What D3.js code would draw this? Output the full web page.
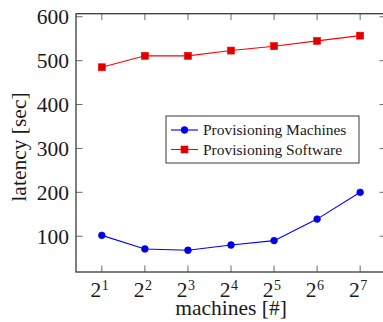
<!DOCTYPE html>
<html>
<head>
<meta charset="utf-8">
<script src="https://cdn.jsdelivr.net/npm/d3@7"></script>
<style>
  body { margin: 0; background: #fff; }
  text { font-family: "Liberation Serif", "DejaVu Serif", serif; fill: #1a1a1a; }
</style>
</head>
<body>
<div id="chart"></div>
<script>
  var machines = [2, 4, 8, 16, 32, 64, 128];
  var provMachines = [102, 71, 68, 80, 90, 139, 200];
  var provSoftware = [485, 511, 511, 523, 533, 545, 557];
  var yTicks = [100, 200, 300, 400, 500, 600];
  var seriesNames = ['Provisioning Machines', 'Provisioning Software'];

  (function () {
    'use strict';

    var width = 383, height = 322;
    var plotLeft = 76, plotRight = 386, plotTop = 13.7, plotBottom = 272;
    var tickLen = 6.5;

    var svg = d3.select('#chart')
      .append('svg')
      .attr('width', width)
      .attr('height', height);

    var x = d3.scaleLog().base(2)
      .domain([Math.pow(2, 0.4), Math.pow(2, 7.6)])
      .range([plotLeft, plotRight]);

    var y = d3.scaleLinear()
      .domain([18.5, 607])
      .range([plotBottom, plotTop]);

    // ticks on all four sides, pointing inward
    var ticks = svg.append('g').attr('stroke', '#6b6b6b').attr('stroke-width', 1);
    machines.forEach(function (m) {
      ticks.append('line').attr('x1', x(m)).attr('x2', x(m)).attr('y1', plotBottom).attr('y2', plotBottom - tickLen);
      ticks.append('line').attr('x1', x(m)).attr('x2', x(m)).attr('y1', plotTop).attr('y2', plotTop + tickLen);
    });
    yTicks.forEach(function (v) {
      ticks.append('line').attr('x1', plotLeft).attr('x2', plotLeft + tickLen).attr('y1', y(v)).attr('y2', y(v));
      ticks.append('line').attr('x1', plotRight).attr('x2', plotRight - tickLen).attr('y1', y(v)).attr('y2', y(v));
    });

    svg.append('rect')
      .attr('x', plotLeft).attr('y', plotTop)
      .attr('width', plotRight - plotLeft).attr('height', plotBottom - plotTop)
      .attr('fill', 'none').attr('stroke', '#3a3a3a').attr('stroke-width', 1.3);

    // y tick labels
    svg.append('g').selectAll('text')
      .data(yTicks).enter()
      .append('text')
      .attr('x', 69)
      .attr('y', function (d) { return y(d) + 7.5; })
      .attr('text-anchor', 'end')
      .style('font-size', '21.5px')
      .text(function (d) { return d; });

    // x tick labels 2^n
    var xl = svg.append('g').selectAll('g')
      .data(machines).enter()
      .append('g')
      .attr('transform', function (d) { return 'translate(' + x(d) + ',296.5)'; });
    xl.append('text')
      .attr('x', -0.5)
      .attr('text-anchor', 'end')
      .style('font-size', '21.5px')
      .text('2');
    xl.append('text')
      .attr('x', 0)
      .attr('y', -6.5)
      .attr('text-anchor', 'start')
      .style('font-size', '14px')
      .text(function (d) { return Math.log2(d); });

    svg.append('text')
      .attr('x', 231).attr('y', 315)
      .attr('text-anchor', 'middle')
      .style('font-size', '21.5px')
      .text('machines [#]');

    svg.append('text')
      .attr('transform', 'translate(26,147) rotate(-90)')
      .attr('text-anchor', 'middle')
      .style('font-size', '21.5px')
      .text('latency [sec]');

    var line = d3.line()
      .x(function (d, i) { return x(machines[i]); })
      .y(function (d) { return y(d); });

    svg.append('path').datum(provMachines)
      .attr('d', line).attr('fill', 'none').attr('stroke', '#0000ff').attr('stroke-width', 1.1);
    svg.append('path').datum(provSoftware)
      .attr('d', line).attr('fill', 'none').attr('stroke', '#ff0000').attr('stroke-width', 1.1);

    svg.append('g').selectAll('circle')
      .data(provMachines).enter()
      .append('circle')
      .attr('cx', function (d, i) { return x(machines[i]); })
      .attr('cy', function (d) { return y(d); })
      .attr('r', 3.4)
      .attr('fill', '#0000e6').attr('stroke', '#0000ff').attr('stroke-width', 0.6);

    svg.append('g').selectAll('rect')
      .data(provSoftware).enter()
      .append('rect')
      .attr('x', function (d, i) { return x(machines[i]) - 3.5; })
      .attr('y', function (d) { return y(d) - 3.5; })
      .attr('width', 7).attr('height', 7)
      .attr('fill', '#dd0000').attr('stroke', '#ff0000').attr('stroke-width', 0.6);

    // legend
    var legend = svg.append('g');
    legend.append('rect')
      .attr('x', 166).attr('y', 116).attr('width', 193).attr('height', 47)
      .attr('fill', '#fff').attr('stroke', '#3a3a3a').attr('stroke-width', 1);
    var rowY = [130, 149.5];
    var colors = ['#0000ff', '#ff0000'];
    seriesNames.forEach(function (name, i) {
      legend.append('line')
        .attr('x1', 171).attr('x2', 198).attr('y1', rowY[i]).attr('y2', rowY[i])
        .attr('stroke', colors[i]).attr('stroke-width', 1.1);
      if (i === 0) {
        legend.append('circle').attr('cx', 184.5).attr('cy', rowY[i]).attr('r', 3.4)
          .attr('fill', '#0000e6').attr('stroke', '#0000ff').attr('stroke-width', 0.6);
      } else {
        legend.append('rect').attr('x', 181).attr('y', rowY[i] - 3.5).attr('width', 7).attr('height', 7)
          .attr('fill', '#dd0000').attr('stroke', '#ff0000').attr('stroke-width', 0.6);
      }
      legend.append('text')
        .attr('x', 203).attr('y', rowY[i] + 5)
        .style('font-size', '15.5px')
        .text(name);
    });
  }());
</script>
</body>
</html>
